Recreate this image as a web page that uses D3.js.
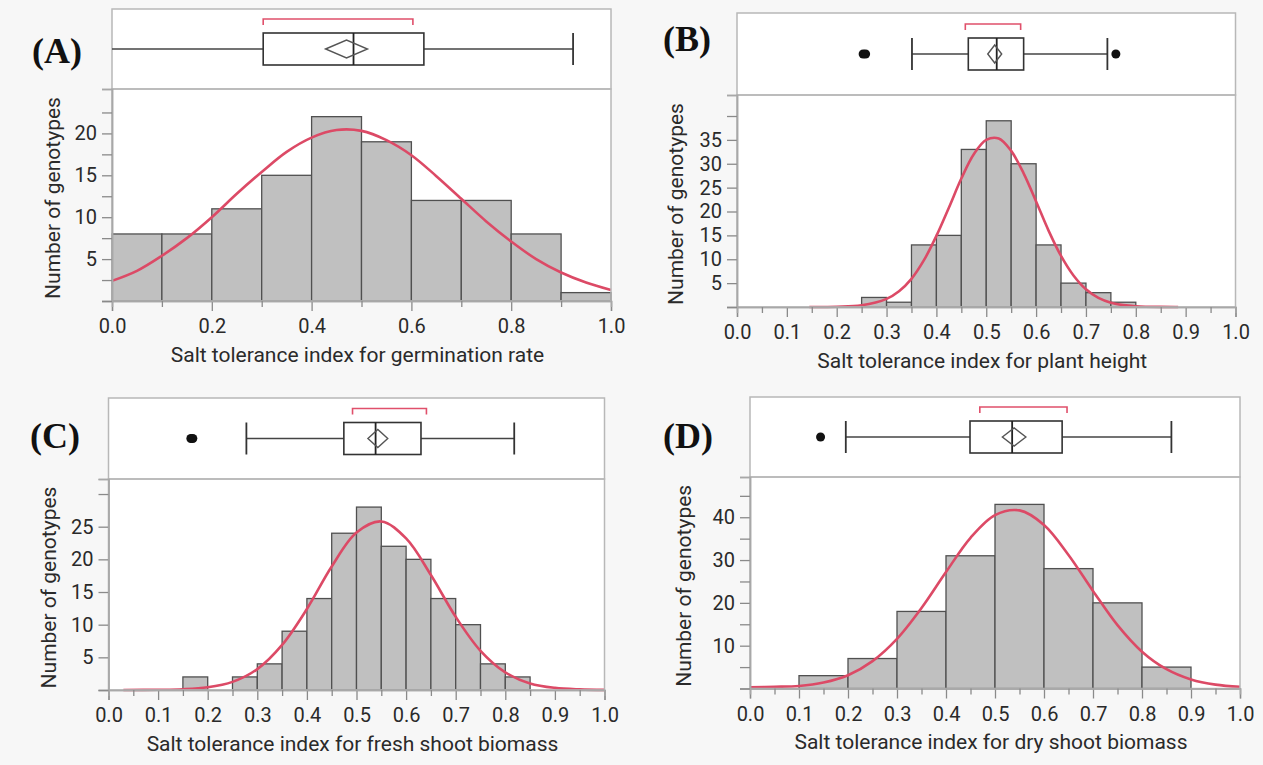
<!DOCTYPE html>
<html>
<head>
<meta charset="utf-8">
<script src="https://cdn.jsdelivr.net/npm/d3@7"></script>
<style>
  html, body { margin: 0; padding: 0; background: #f7f7f7; }
  svg { display: block; }
</style>
</head>
<body>
<div id="chart"></div>
<script>
// ---- (A) germination rate ----
const germBinStart = [0.0, 0.1, 0.2, 0.3, 0.4, 0.5, 0.6, 0.7, 0.8, 0.9];
const germCounts = [8, 8, 11, 15, 22, 19, 12, 12, 8, 1];
const germBox = [0.0, 0.303, 0.484, 0.625, 0.924]; // min, q1, median, q3, max
const germMean = [0.47, 0.042]; // mean, half width of CI diamond
const germShortest = [0.303, 0.603];
const germOutliers = [];
const germCurveX = [0, 0.05, 0.1, 0.15, 0.2, 0.25, 0.3, 0.35, 0.4, 0.45, 0.5, 0.55, 0.6, 0.65, 0.7, 0.75, 0.8, 0.85, 0.9, 0.95, 1.0];
const germCurveY = [2.4, 3.6, 5.4, 7.5, 10.0, 12.8, 15.4, 17.8, 19.5, 20.4, 20.3, 19.2, 17.4, 14.9, 12.2, 9.5, 7.1, 5.0, 3.4, 2.2, 1.3];
const germXLabels = [0, 0.2, 0.4, 0.6, 0.8, 1.0];
const germXMinor = [0.1, 0.3, 0.5, 0.7, 0.9];
const germYLabels = [5, 10, 15, 20];
const germYMinor = [0, 2.5, 7.5, 12.5, 17.5, 22.5];

// ---- (B) plant height ----
const heightBinStart = [0.25, 0.3, 0.35, 0.4, 0.45, 0.5, 0.55, 0.6, 0.65, 0.7, 0.75];
const heightCounts = [2, 1, 13, 15, 33, 39, 30, 13, 5, 3, 1];
const heightBox = [0.351, 0.464, 0.521, 0.575, 0.743];
const heightMean = [0.517, 0.014];
const heightShortest = [0.458, 0.569];
const heightOutliers = [0.253, 0.258, 0.760];
const heightCurveX = [0.145, 0.2, 0.25, 0.3, 0.325, 0.35, 0.375, 0.4, 0.425, 0.45, 0.475, 0.5, 0.525, 0.55, 0.575, 0.6, 0.625, 0.65, 0.675, 0.7, 0.725, 0.75, 0.775, 0.8, 0.85, 0.885];
const heightCurveY = [0.0, 0.05, 0.35, 1.7, 3.3, 5.9, 9.8, 14.9, 20.8, 26.9, 32.0, 35.0, 35.3, 32.7, 28.0, 22.1, 16.0, 10.7, 6.6, 3.7, 1.9, 0.9, 0.4, 0.17, 0.02, 0.0];
const heightXLabels = [0, 0.1, 0.2, 0.3, 0.4, 0.5, 0.6, 0.7, 0.8, 0.9, 1.0];
const heightXMinor = [0.05, 0.15, 0.25, 0.35, 0.45, 0.55, 0.65, 0.75, 0.85, 0.95];
const heightYLabels = [5, 10, 15, 20, 25, 30, 35];
const heightYMinor = [0, 40];

// ---- (C) fresh shoot biomass ----
const freshBinStart = [0.15, 0.2, 0.25, 0.3, 0.35, 0.4, 0.45, 0.5, 0.55, 0.6, 0.65, 0.7, 0.75, 0.8];
const freshCounts = [2, 0, 2, 4, 9, 14, 24, 28, 22, 20, 14, 10, 4, 2];
const freshBox = [0.278, 0.4745, 0.5385, 0.63, 0.818];
const freshMean = [0.543, 0.02];
const freshShortest = [0.492, 0.641];
const freshOutliers = [0.166, 0.170];
const freshCurveX = [0.03, 0.1, 0.15, 0.2, 0.25, 0.3, 0.35, 0.4, 0.45, 0.5, 0.55, 0.6, 0.65, 0.7, 0.75, 0.8, 0.85, 0.9, 0.95, 1.0];
const freshCurveY = [0.0, 0.03, 0.11, 0.41, 1.24, 3.2, 6.9, 12.4, 18.9, 24.1, 25.8, 23.2, 17.6, 11.2, 6.0, 2.7, 1.0, 0.32, 0.09, 0.02];
const freshXLabels = [0, 0.1, 0.2, 0.3, 0.4, 0.5, 0.6, 0.7, 0.8, 0.9, 1.0];
const freshXMinor = [0.05, 0.15, 0.25, 0.35, 0.45, 0.55, 0.65, 0.75, 0.85, 0.95];
const freshYLabels = [5, 10, 15, 20, 25];
const freshYMinor = [0, 30];

// ---- (D) dry shoot biomass ----
const dryBinStart = [0.1, 0.2, 0.3, 0.4, 0.5, 0.6, 0.7, 0.8];
const dryCounts = [3, 7, 18, 31, 43, 28, 20, 5];
const dryBox = [0.1955, 0.449, 0.535, 0.637, 0.86];
const dryMean = [0.539, 0.024];
const dryShortest = [0.469, 0.647];
const dryOutliers = [0.144];
const dryCurveX = [0, 0.05, 0.1, 0.15, 0.2, 0.25, 0.3, 0.35, 0.4, 0.45, 0.5, 0.55, 0.6, 0.65, 0.7, 0.75, 0.8, 0.85, 0.9, 0.95, 1.0];
const dryCurveY = [0.3, 0.4, 0.6, 1.4, 3.1, 6.4, 11.6, 18.8, 27.2, 35.2, 40.5, 41.6, 38.2, 31.2, 22.8, 14.8, 8.6, 4.5, 2.1, 0.9, 0.4];
const dryXLabels = [0, 0.1, 0.2, 0.3, 0.4, 0.5, 0.6, 0.7, 0.8, 0.9, 1.0];
const dryXMinor = [0.05, 0.15, 0.25, 0.35, 0.45, 0.55, 0.65, 0.75, 0.85, 0.95];
const dryYLabels = [10, 20, 30, 40];
const dryYMinor = [0, 5, 15, 25, 35, 45];

const panels = [
  { tag: "(A)", title: "Salt tolerance index for germination rate",
    tagX: 57, tagY: 63, left: 112, right: 611, top: 9, sep: 89, bottom: 301, yMax: 25.3, binW: 0.1, titleGap: 52.5,
    starts: germBinStart, counts: germCounts, box: germBox, mean: germMean, shortest: germShortest, outliers: germOutliers,
    cx: germCurveX, cy: germCurveY, xLab: germXLabels, xMin: germXMinor, yLab: germYLabels, yMin: germYMinor },
  { tag: "(B)", title: "Salt tolerance index for plant height",
    tagX: 687, tagY: 51, left: 737, right: 1235.5, top: 13, sep: 95, bottom: 307, yMax: 44.4, binW: 0.05, titleGap: 54,
    starts: heightBinStart, counts: heightCounts, box: heightBox, mean: heightMean, shortest: heightShortest, outliers: heightOutliers,
    cx: heightCurveX, cy: heightCurveY, xLab: heightXLabels, xMin: heightXMinor, yLab: heightYLabels, yMin: heightYMinor },
  { tag: "(C)", title: "Salt tolerance index for fresh shoot biomass",
    tagX: 55, tagY: 448, left: 108.5, right: 604.5, top: 398, sep: 479, bottom: 690, yMax: 32.3, binW: 0.05, titleGap: 52.5,
    starts: freshBinStart, counts: freshCounts, box: freshBox, mean: freshMean, shortest: freshShortest, outliers: freshOutliers,
    cx: freshCurveX, cy: freshCurveY, xLab: freshXLabels, xMin: freshXMinor, yLab: freshYLabels, yMin: freshYMinor },
  { tag: "(D)", title: "Salt tolerance index for dry shoot biomass",
    tagX: 688, tagY: 448, left: 750, right: 1240, top: 397, sep: 477, bottom: 688.5, yMax: 49.4, binW: 0.1, titleGap: 59.5,
    starts: dryBinStart, counts: dryCounts, box: dryBox, mean: dryMean, shortest: dryShortest, outliers: dryOutliers,
    cx: dryCurveX, cy: dryCurveY, xLab: dryXLabels, xMin: dryXMinor, yLab: dryYLabels, yMin: dryYMinor }
];

const width = 1263;
const height = 765;
const fontUI = "Roboto, 'Noto Sans', sans-serif";

const svg = d3
  .select("#chart")
  .append("svg")
  .attr("width", width)
  .attr("height", height)
  .style("background-color", "#f7f7f7");

panels.forEach((p) => {
  const g = svg.append("g");

  const x = d3.scaleLinear().domain([0, 1]).range([p.left, p.right]);
  const y = d3.scaleLinear().domain([0, p.yMax]).range([p.bottom, p.sep]);
  const mid = (p.top + p.sep) / 2;
  const half = 16;

  // panel background
  g.append("rect")
    .attr("x", p.left).attr("y", p.top)
    .attr("width", p.right - p.left).attr("height", p.bottom - p.top)
    .attr("fill", "white");

  // histogram bars
  g.selectAll("rect.bar")
    .data(p.starts.map((s, i) => ({ s, c: p.counts[i] })).filter((d) => d.c > 0))
    .enter()
    .append("rect")
    .attr("class", "bar")
    .attr("x", (d) => x(d.s))
    .attr("y", (d) => y(d.c))
    .attr("width", (d) => x(d.s + p.binW) - x(d.s))
    .attr("height", (d) => y(0) - y(d.c))
    .attr("fill", "#c0c0c0")
    .attr("stroke", "#505050")
    .attr("stroke-width", 1.3);

  // fitted normal curve
  const line = d3.line()
    .x((d) => x(d[0]))
    .y((d) => y(d[1]))
    .curve(d3.curveCatmullRom.alpha(0.5));
  g.append("path")
    .datum(p.cx.map((v, i) => [v, p.cy[i]]))
    .attr("d", line)
    .attr("fill", "none")
    .attr("stroke", "#dc4a66")
    .attr("stroke-width", 2.6);

  // frames
  g.append("rect")
    .attr("x", p.left).attr("y", p.top)
    .attr("width", p.right - p.left).attr("height", p.sep - p.top)
    .attr("fill", "none").attr("stroke", "#b8b8b8").attr("stroke-width", 1.5);
  g.append("rect")
    .attr("x", p.left).attr("y", p.sep)
    .attr("width", p.right - p.left).attr("height", p.bottom - p.sep)
    .attr("fill", "none").attr("stroke", "#b8b8b8").attr("stroke-width", 1.5);

  // x axis
  const xAxis = g.append("g")
    .attr("transform", `translate(0, ${p.bottom})`)
    .call(d3.axisBottom(x).tickValues(p.xLab).tickSize(10).tickPadding(8).tickFormat(d3.format(".1f")));
  const xMinor = g.append("g")
    .attr("transform", `translate(0, ${p.bottom})`)
    .call(d3.axisBottom(x).tickValues(p.xMin).tickSize(6).tickFormat(""));

  // y axis
  const yAxis = g.append("g")
    .attr("transform", `translate(${p.left}, 0)`)
    .call(d3.axisLeft(y).tickValues(p.yLab).tickSize(10).tickPadding(5));
  const yMinor = g.append("g")
    .attr("transform", `translate(${p.left}, 0)`)
    .call(d3.axisLeft(y).tickValues(p.yMin).tickSize(10).tickFormat(""));

  [xAxis, xMinor, yAxis, yMinor].forEach((a) => {
    a.select(".domain").attr("stroke", "#a8a8a8").attr("stroke-width", 1.5);
    a.selectAll(".tick line").attr("stroke", "#8a8a8a").attr("stroke-width", 1.3);
    a.selectAll(".tick text")
      .attr("fill", "#2a2a2a")
      .style("font-family", fontUI)
      .style("font-size", "20px");
  });

  // box plot
  const [mn, q1, md, q3, mx] = p.box;
  g.append("line")
    .attr("x1", x(mn)).attr("x2", x(q1)).attr("y1", mid).attr("y2", mid)
    .attr("stroke", "#444").attr("stroke-width", 1.6);
  g.append("line")
    .attr("x1", x(q3)).attr("x2", x(mx)).attr("y1", mid).attr("y2", mid)
    .attr("stroke", "#444").attr("stroke-width", 1.6);
  [mn, mx].filter((v) => v > 0 && v < 1).forEach((v) => {
    g.append("line")
      .attr("x1", x(v)).attr("x2", x(v)).attr("y1", mid - half).attr("y2", mid + half)
      .attr("stroke", "#333").attr("stroke-width", 1.8);
  });
  g.append("rect")
    .attr("x", x(q1)).attr("y", mid - half)
    .attr("width", x(q3) - x(q1)).attr("height", half * 2)
    .attr("fill", "white").attr("stroke", "#333").attr("stroke-width", 1.6);
  g.append("line")
    .attr("x1", x(md)).attr("x2", x(md)).attr("y1", mid - half).attr("y2", mid + half)
    .attr("stroke", "#222").attr("stroke-width", 1.8);

  const [mu, ci] = p.mean;
  g.append("path")
    .attr("d", `M${x(mu - ci)},${mid} L${x(mu)},${mid - 9} L${x(mu + ci)},${mid} L${x(mu)},${mid + 9} Z`)
    .attr("fill", "none").attr("stroke", "#555").attr("stroke-width", 1.4);

  const [s0, s1] = p.shortest;
  g.append("path")
    .attr("d", `M${x(s0)},${mid - 24} L${x(s0)},${mid - 30} L${x(s1)},${mid - 30} L${x(s1)},${mid - 24}`)
    .attr("fill", "none").attr("stroke", "#e0506b").attr("stroke-width", 1.6);

  g.selectAll("circle.out")
    .data(p.outliers)
    .enter()
    .append("circle")
    .attr("class", "out")
    .attr("cx", (d) => x(d))
    .attr("cy", mid)
    .attr("r", 4.5)
    .attr("fill", "#111");

  // titles
  g.append("text")
    .attr("x", (p.left + p.right) / 2 - 4)
    .attr("y", p.bottom + 60.5)
    .attr("text-anchor", "middle")
    .attr("fill", "#2a2a2a")
    .style("font-family", fontUI)
    .style("font-size", "21px")
    .text(p.title);

  g.append("text")
    .attr("transform", `translate(${p.left - p.titleGap}, ${(p.sep + p.bottom) / 2 + 3}) rotate(-90)`)
    .attr("text-anchor", "middle")
    .attr("fill", "#2a2a2a")
    .style("font-family", fontUI)
    .style("font-size", "21px")
    .text("Number of genotypes");

  g.append("text")
    .attr("x", p.tagX)
    .attr("y", p.tagY)
    .attr("text-anchor", "middle")
    .attr("fill", "#111")
    .style("font-family", "'Liberation Serif', 'Times New Roman', serif")
    .style("font-weight", "bold")
    .style("font-size", "36px")
    .text(p.tag);
});
</script>
</body>
</html>
